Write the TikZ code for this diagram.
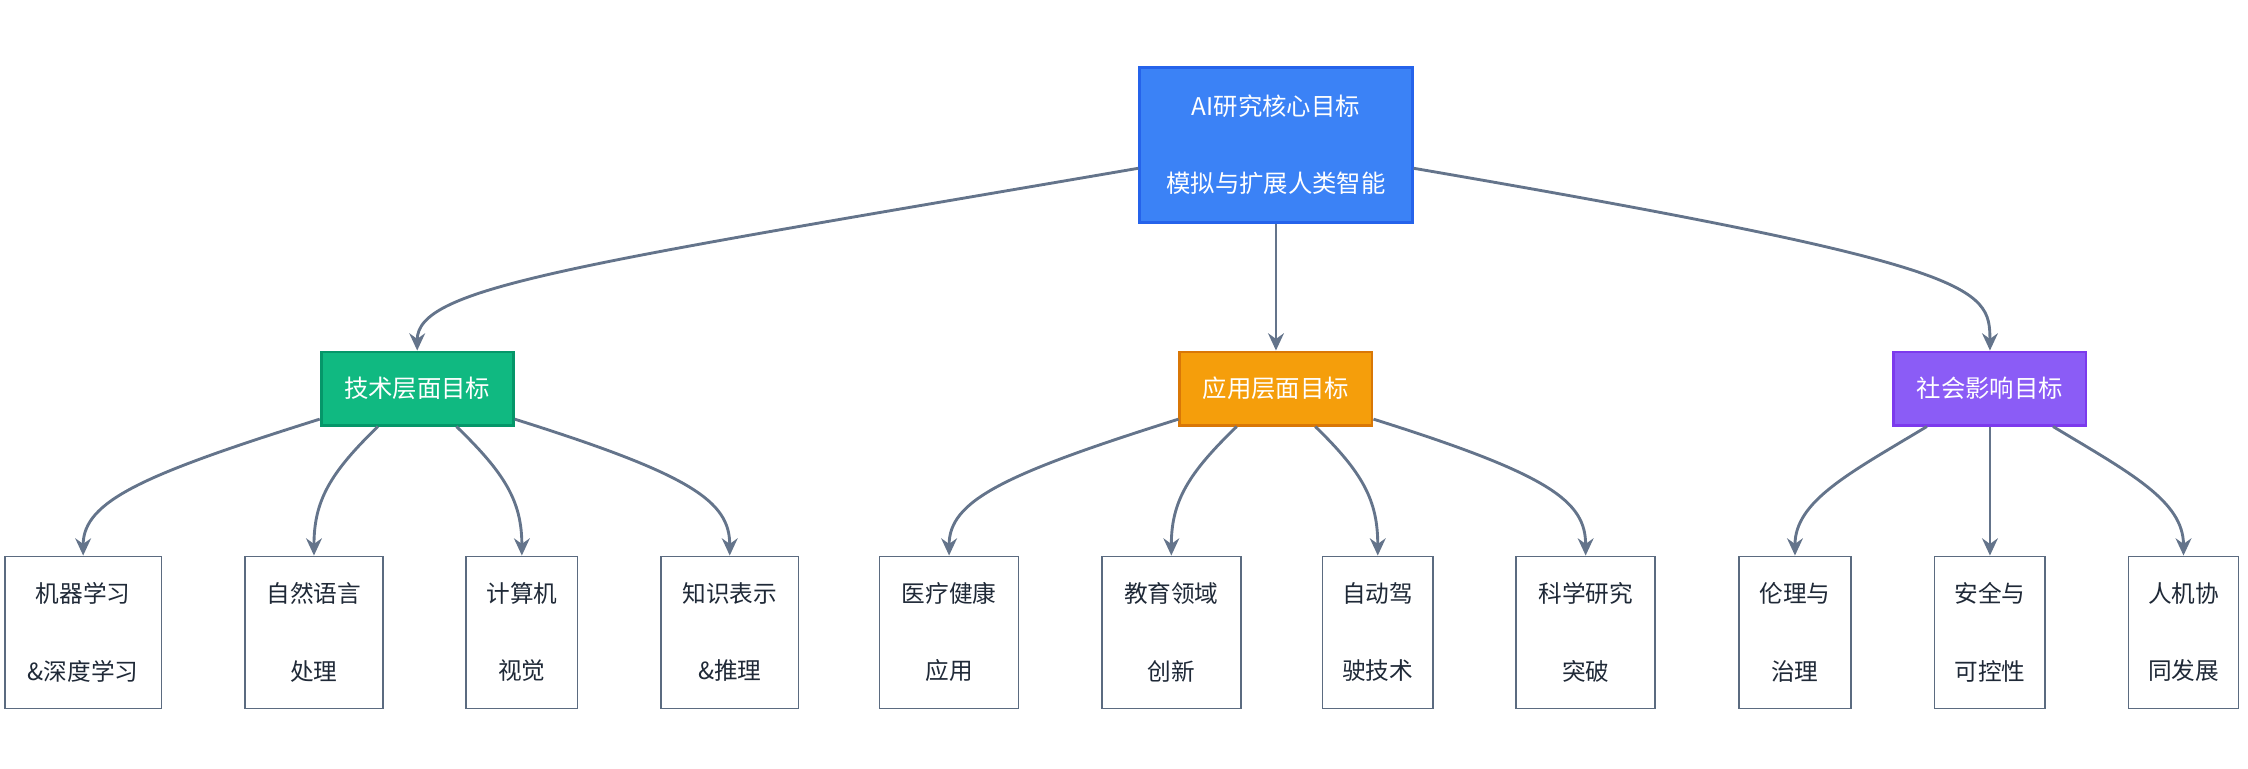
\documentclass[tikz,border=0pt]{standalone}
\usepackage{fontspec}
\setmainfont{Noto Sans CJK SC}
\usetikzlibrary{arrows.meta}
\definecolor{edgec}{HTML}{64748B}
\definecolor{leafb}{HTML}{5B6B80}
\definecolor{txt}{HTML}{1F2937}
\begin{document}
\begin{tikzpicture}[x=1pt,y=-1pt,
  base/.style={draw,line width=2pt,font=\fontsize{17}{20}\selectfont,align=center,inner sep=0pt,text=white},
  leaf/.style={draw=leafb,fill=white,line width=1pt,minimum height=106pt,font=\fontsize{16.5}{20}\selectfont,align=center,inner sep=0pt,text=txt},
  mid/.style={base,minimum width=134pt,minimum height=51pt},
  e/.style={draw=edgec,line width=2pt,-{Stealth[length=12pt,width=11pt]}}]
\useasboundingbox (0,0) rectangle (1568,536);
\node[base,fill={rgb,255:red,59;green,130;blue,246},draw={rgb,255:red,37;green,99;blue,235},minimum width=190pt,minimum height=108pt] (root) at (890,101) {AI研究核心目标\\[34pt]模拟与扩展人类智能};
\node[mid,fill={rgb,255:red,16;green,185;blue,129},draw={rgb,255:red,5;green,150;blue,105}] (tech) at (291,271) {技术层面目标};
\node[mid,fill={rgb,255:red,245;green,158;blue,11},draw={rgb,255:red,217;green,119;blue,6}] (app) at (890,271) {应用层面目标};
\node[mid,fill={rgb,255:red,139;green,92;blue,246},draw={rgb,255:red,124;green,58;blue,237}] (soc) at (1388,271) {社会影响目标};
\foreach \n/\x/\w/\t in {l1/58/109/机器学习\\[34pt]\&深度学习, l2/219/96/自然语言\\[34pt]处理, l3/364/78/计算机\\[34pt]视觉, l4/509/96/知识表示\\[34pt]\&推理, l5/662/97/医疗健康\\[34pt]应用, l6/817/97/教育领域\\[34pt]创新, l7/961/77/自动驾\\[34pt]驶技术, l8/1106/97/科学研究\\[34pt]突破, l9/1252/78/伦理与\\[34pt]治理, l10/1388/77/安全与\\[34pt]可控性, l11/1523/77/人机协\\[34pt]同发展}
  \node[leaf,minimum width=\w pt] (\n) at (\x,441) {\t};
\draw[e] (root) .. controls (400,185) and (291,200) .. (tech.north);
\draw[e] (root) -- (app);
\draw[e] (root) .. controls (1380,185) and (1388,200) .. (soc.north);
\foreach \p/\a/\b/\c/\d in {tech/l1/l2/l3/l4, app/l5/l6/l7/l8}{
  \draw[e] (\p) .. controls +(-191,60) and +(0,-38) .. (\a.north);
  \draw[e] (\p) .. controls +(-61,59) and +(0,-38) .. (\b.north);
  \draw[e] (\p) .. controls +(61,59) and +(0,-38) .. (\c.north);
  \draw[e] (\p) .. controls +(191,60) and +(0,-38) .. (\d.north);
}
\draw[e] (soc) .. controls +(-98,59) and +(0,-38) .. (l9.north);
\draw[e] (soc) -- (l10);
\draw[e] (soc) .. controls +(98,59) and +(0,-38) .. (l11.north);
\end{tikzpicture}
\end{document}
